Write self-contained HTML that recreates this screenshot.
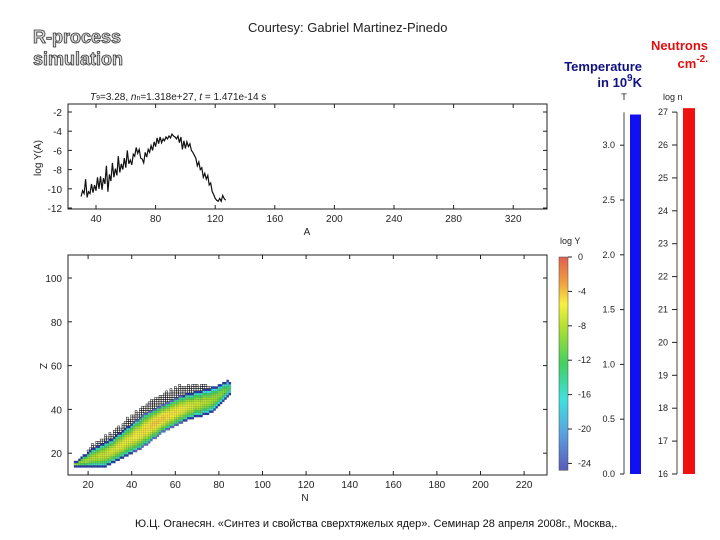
<!DOCTYPE html>
<html><head><meta charset="utf-8"><style>
html,body{margin:0;padding:0;background:#fff;width:720px;height:540px;overflow:hidden}
svg text{font-family:"Liberation Sans",sans-serif}
</style></head><body>
<svg id="s" width="720" height="540" viewBox="0 0 720 540" xmlns="http://www.w3.org/2000/svg">
<defs>
<linearGradient id="jet" x1="0" y1="1" x2="0" y2="0">
<stop offset="0" stop-color="#5a5ab8"/><stop offset="0.17" stop-color="#5aa0e0"/><stop offset="0.33" stop-color="#40e0e0"/><stop offset="0.5" stop-color="#40d060"/><stop offset="0.67" stop-color="#b0e030"/><stop offset="0.78" stop-color="#f8f040"/><stop offset="0.88" stop-color="#f0a040"/><stop offset="1" stop-color="#e06050"/>
</linearGradient>
</defs>
<text x="33" y="43" font-size="18" font-weight="bold" fill="#ddd" stroke="#333" stroke-width="0.8">R-process</text>
<text x="33" y="65" font-size="18" font-weight="bold" fill="#ddd" stroke="#333" stroke-width="0.8">simulation</text>
<text x="248" y="32" font-size="13" fill="#222">Courtesy: Gabriel Martinez-Pinedo</text>
<text x="708" y="50" font-size="13" font-weight="bold" fill="#e01010" text-anchor="end">Neutrons</text>
<text x="708" y="68" font-size="13" font-weight="bold" fill="#e01010" text-anchor="end">cm<tspan dy="-6" font-size="10">-2.</tspan></text>
<text x="642" y="71" font-size="13" font-weight="bold" fill="#101080" text-anchor="end">Temperature</text>
<text x="642" y="87" font-size="13" font-weight="bold" fill="#101080" text-anchor="end">in 10<tspan dy="-6" font-size="10">9</tspan><tspan dy="6">K</tspan></text>
<text x="90" y="100" font-size="10" fill="#222"><tspan font-style="italic">T</tspan><tspan font-size="7">9</tspan>=3.28,   <tspan font-style="italic">n</tspan><tspan font-size="7">n</tspan>=1.318e+27,    <tspan font-style="italic">t</tspan> = 1.471e-14 s</text>
<g id="top"></g>
<g id="bot"></g>
<g id="bars"></g>
<text x="135" y="527" font-size="11" fill="#111">Ю.Ц. Оганесян. «Синтез и свойства сверхтяжелых ядер». Семинар 28 апреля 2008г., Москва,.</text>
</svg>
<script>
const topA=[30,31,32,33,34,35,36,37,38,39,40,41,42,43,44,45,46,47,48,49,50,51,52,53,54,55,56,57,58,59,60,61,62,63,64,65,66,67,68,69,70,71,72,73,74,75,76,77,78,79,80,81,82,83,84,85,86,87,88,89,90,91,92,93,94,95,96,97,98,99,100,101,102,103,104,105,106,107,108,109,110,111,112,113,114,115,116,117,118,119,120,121,122,123,124,125,126,127];
const topLogY=[-10.8,-10.2,-10.5,-9.0,-10.9,-10.3,-10.5,-9.5,-10.4,-9.6,-10.2,-8.8,-10.0,-8.7,-10.1,-8.9,-9.5,-7.6,-10.3,-8.5,-9.2,-7.3,-8.8,-7.9,-8.6,-6.6,-8.3,-7.4,-8.0,-6.8,-7.8,-6.0,-7.4,-7.0,-7.5,-6.4,-6.6,-5.7,-6.3,-5.9,-6.8,-6.9,-7.3,-6.2,-6.7,-5.9,-6.2,-5.5,-6.0,-5.1,-5.6,-4.7,-5.3,-4.6,-5.2,-4.8,-5.0,-4.6,-4.8,-4.5,-4.7,-4.3,-4.5,-4.6,-4.8,-4.5,-5.2,-4.6,-5.9,-5.0,-5.8,-5.1,-5.6,-5.3,-6.0,-6.2,-6.5,-6.8,-7.6,-7.2,-8.0,-7.8,-8.8,-8.4,-9.0,-8.6,-9.6,-9.4,-10.3,-10.6,-11.0,-11.2,-11.3,-11.0,-11.3,-10.7,-11.0,-11.2];
const topXTicks=[40,80,120,160,200,240,280,320];
const topYTicks=[-2,-4,-6,-8,-10,-12];
const colN0=14;
const colZLo=[14,14,14,14,14,14,14,14,14,14,14,14,14,14,14,15,15,16,16,17,17,18,18,19,19,20,20,21,21,22,22,23,24,24,25,26,27,27,28,29,30,30,31,31,32,32,33,33,34,34,35,35,36,36,36,37,37,37,37,38,38,38,39,39,40,41,42,43,44,45,46,47];
const colZHi=[16,16,17,18,19,19,20,21,22,22,23,23,24,24,25,25,26,26,27,28,29,29,30,31,32,32,33,34,35,35,36,37,38,38,39,39,40,40,41,41,42,42,43,43,44,44,45,45,46,46,46,47,47,47,47,48,48,48,48,49,49,49,49,50,50,50,51,51,52,52,53,52];
const colPeak=[-9,-9,-9,-8.5,-8.5,-8,-8,-8,-7.5,-7.5,-7.5,-7,-7,-7,-7,-6.5,-6.5,-6.5,-6.5,-6,-6,-6,-6,-6,-6,-6,-6,-5.5,-5.5,-5.5,-5.5,-5,-5,-5,-5,-4.5,-4.5,-4.5,-4.5,-4.5,-4.5,-4.5,-5,-5,-5,-5,-5,-5.5,-5.5,-5.5,-6,-6,-6,-6.5,-6.5,-7,-7,-7,-7.5,-7.5,-7.5,-8,-8,-8,-8.5,-8.5,-9,-9,-9.5,-10,-11,-13];
const colOpen=[0,0,0,0,0,0,1,1,2,1,2,2,2,2,3,2,3,2,3,3,3,2,3,3,4,3,4,3,4,3,4,4,3,4,4,5,4,5,4,5,4,5,5,4,5,4,5,4,5,4,4,3,4,3,4,3,3,2,3,2,2,1,1,0,0,0,0,0,0,0,0,0];
const botNTicks=[20,40,60,80,100,120,140,160,180,200,220];
const botZTicks=[20,40,60,80,100];
const logYTicks=[0,-4,-8,-12,-16,-20,-24];
const tTicks=[0.0,0.5,1.0,1.5,2.0,2.5,3.0];
const tValue=3.28;
const nnTicks=[16,17,18,19,20,21,22,23,24,25,26,27];
const nnValue=27.12;

const NS='http://www.w3.org/2000/svg';
function mk(tag,attrs,parent,txt){const e=document.createElementNS(NS,tag);for(const k in attrs)e.setAttribute(k,attrs[k]);if(txt!==undefined)e.textContent=txt;parent.appendChild(e);return e;}
const ax=a=>36.4+a*1.49, ay=v=>112+(-2-v)*9.6;
const gt=document.getElementById('top');
let f=mk('rect',{x:68,y:104,width:479,height:105,fill:'none',stroke:'#222','stroke-width':1},gt);


topXTicks.forEach(t=>{const x=ax(t);mk('line',{x1:x,x2:x,y1:209,y2:205,stroke:'#222'},gt);mk('line',{x1:x,x2:x,y1:104,y2:108,stroke:'#222'},gt);
const l=mk('text',{x:x,y:222,'font-size':10,'text-anchor':'middle',fill:'#222'},gt,t);

});
topYTicks.forEach(t=>{const y=ay(t);mk('line',{x1:68,x2:72,y1:y,y2:y,stroke:'#222'},gt);mk('line',{x1:547,x2:543,y1:y,y2:y,stroke:'#222'},gt);
const l=mk('text',{x:62,y:y+4,'font-size':10,'text-anchor':'end',fill:'#222'},gt,t);

});
let t1=mk('text',{x:307,y:235,'font-size':10,'text-anchor':'middle',fill:'#222'},gt,'A');


let t2=mk('text',{x:0,y:0,'font-size':10,'text-anchor':'middle',fill:'#222',transform:'translate(41,158) rotate(-90)'},gt,'log Y(A)');


let ln=mk('polyline',{points:topA.map((a,i)=>ax(a).toFixed(1)+','+ay(topLogY[i]).toFixed(1)).join(' '),fill:'none',stroke:'#111','stroke-width':1.2},gt);


const bx=n=>44.5+n*2.18, by=z=>497-z*2.19;
const gb=document.getElementById('bot');
function jet(v){const stops=[[-24,[90,90,184]],[-20,[90,160,224]],[-16,[64,224,224]],[-12,[64,208,96]],[-8,[176,224,48]],[-5.5,[248,240,64]],[-3,[240,160,64]],[0,[224,96,80]]];
if(v<=-24)return 'rgb(40,60,170)';for(let i=1;i<stops.length;i++){if(v<=stops[i][0]){const a=stops[i-1],b=stops[i],t=(v-a[0])/(b[0]-a[0]);return 'rgb('+a[1].map((c,j)=>Math.round(c+(b[1][j]-c)*t)).join(',')+')';}}return 'rgb(224,96,80)';}
colZLo.forEach((lo,i)=>{const n=colN0+i,hi=colZHi[i],mid=(lo+hi)/2,half=Math.max(1,(hi-lo)/2);
for(let z=lo;z<=hi;z++){const d=Math.abs(z-mid)/half;const v=colPeak[i]-d*d*12-(d>0.95?6:0);
const r=mk('rect',{x:bx(n)-1.1,y:by(z)-1.1,width:2.3,height:2.3,fill:jet(v),stroke:'rgba(0,0,0,0.25)','stroke-width':0.3},gb);

}
for(let k=1;k<=colOpen[i];k++){const r=mk('rect',{x:bx(n)-1,y:by(hi+k)-1,width:2,height:2,fill:'#fff',stroke:'#111','stroke-width':0.5},gb);

}});
f=mk('rect',{x:68,y:255,width:479,height:220,fill:'none',stroke:'#222'},gb);


botNTicks.forEach(t=>{const x=bx(t);mk('line',{x1:x,x2:x,y1:475,y2:471,stroke:'#222'},gb);mk('line',{x1:x,x2:x,y1:255,y2:259,stroke:'#222'},gb);
const l=mk('text',{x:x,y:488,'font-size':10,'text-anchor':'middle',fill:'#222'},gb,t);

});
botZTicks.forEach(t=>{const y=by(t);mk('line',{x1:68,x2:72,y1:y,y2:y,stroke:'#222'},gb);mk('line',{x1:547,x2:543,y1:y,y2:y,stroke:'#222'},gb);
const l=mk('text',{x:62,y:y+4,'font-size':10,'text-anchor':'end',fill:'#222'},gb,t);

});
t1=mk('text',{x:305,y:501,'font-size':10,'text-anchor':'middle',fill:'#222'},gb,'N');


t2=mk('text',{x:0,y:0,'font-size':10,'text-anchor':'middle',fill:'#222',transform:'translate(40,366) rotate(90)'},gb,'Z');


const gc=document.getElementById('bars');
const cy=v=>257+(-v)*8.6;
let r=mk('rect',{x:559,y:cy(0),width:9,height:cy(-24.8)-cy(0),fill:'url(#jet)',stroke:'#444','stroke-width':0.5},gc);


logYTicks.forEach(t=>{mk('line',{x1:568,x2:572,y1:cy(t),y2:cy(t),stroke:'#222'},gc);
const l=mk('text',{x:578,y:cy(t)+3,'font-size':9,fill:'#222'},gc,t);

});
t1=mk('text',{x:560,y:244,'font-size':9,fill:'#222'},gc,'log Y');


const ty=v=>474-v*109.6;
mk('line',{x1:624,x2:624,y1:ty(0),y2:ty(3.3),stroke:'#444'},gc);
r=mk('rect',{x:630,y:ty(tValue),width:11,height:ty(0)-ty(tValue),fill:'#1010f0'},gc);


tTicks.forEach(t=>{mk('line',{x1:620,x2:624,y1:ty(t),y2:ty(t),stroke:'#222'},gc);
const l=mk('text',{x:615,y:ty(t)+3,'font-size':9,fill:'#222','text-anchor':'end'},gc,t.toFixed(1));

});
t1=mk('text',{x:624,y:100,'font-size':9,fill:'#222','text-anchor':'middle'},gc,'T');


const ny=v=>474-(v-16)*32.9;
mk('line',{x1:677,x2:677,y1:ny(16),y2:ny(27),stroke:'#444'},gc);
r=mk('rect',{x:683,y:ny(nnValue),width:12,height:ny(16)-ny(nnValue),fill:'#f01010'},gc);


nnTicks.forEach(t=>{mk('line',{x1:672,x2:677,y1:ny(t),y2:ny(t),stroke:'#222'},gc);
const l=mk('text',{x:668,y:ny(t)+3,'font-size':9,fill:'#222','text-anchor':'end'},gc,t);

});
t1=mk('text',{x:663,y:100,'font-size':9,fill:'#222'},gc,'log n');


</script>
</body></html>
